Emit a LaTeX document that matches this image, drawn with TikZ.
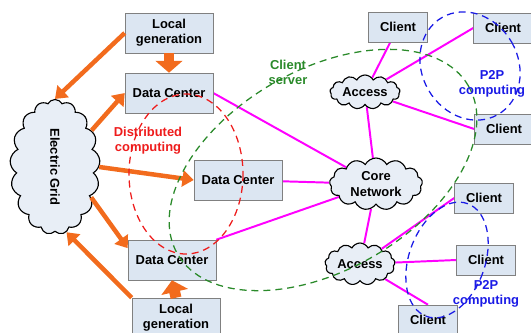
\documentclass[tikz,border=0pt]{standalone}
\usepackage{fontspec}
\setmainfont{Liberation Sans}
\usetikzlibrary{shapes.symbols, arrows.meta, backgrounds}

\definecolor{boxfill}{HTML}{DCE6F2}
\definecolor{boxline}{HTML}{808080}
\definecolor{cloudfill}{HTML}{E8EEF6}
\definecolor{power}{HTML}{F26B1D}
\definecolor{link}{HTML}{FF00FF}
\definecolor{dcred}{HTML}{EE1C1C}
\definecolor{csgreen}{HTML}{2A8A2A}
\definecolor{ppblue}{HTML}{1A1AE6}

\begin{document}
\begin{tikzpicture}[x=0.025cm, y=-0.025cm,
  every node/.style={font=\fontsize{9.2}{10.8}\selectfont\bfseries, align=center},
  box/.style={draw=boxline, fill=boxfill, minimum width=2.2cm, minimum height=1cm, inner sep=1pt},
  client/.style={box, minimum width=1.475cm, minimum height=0.75cm},
  net/.style={cloud, draw, thick, fill=cloudfill, cloud puffs=13, cloud puff arc=125, cloud ignores aspect, inner sep=0pt},
  wire/.style={link, line width=1.4pt},
  feed/.style={power, line width=3.2pt, -{Triangle[length=8pt, width=11.5pt]}},
  bigfeed/.style={power, line width=7.8pt, -{Triangle[length=8.5pt, width=19pt]}},
  zone/.style={dash pattern=on 5pt off 3.5pt, line width=0.9pt}]
  \useasboundingbox (0,0) rectangle (531,332);

  \node[box] (lgtop) at (169,33) {Local\\generation};
  \node[box] (dctop) at (169,93) {Data Center};
  \node[box] (dcmid) at (238,180) {Data Center};
  \node[box] (dcbot) at (172,260) {Data Center};
  \node[box] (lgbot) at (176,318) {Local\\generation};
  \node[net, cloud puffs=17, minimum width=2.25cm, minimum height=3.375cm] (grid) at (55,167) {\rotatebox{-90}{Electric Grid}};

  \node[net, minimum width=1.75cm, minimum height=0.85cm] (acctop) at (365,92) {Access};
  \node[net, minimum width=2.325cm, minimum height=1.3cm] (core) at (376,184) {Core\\Network};
  \node[net, minimum width=1.75cm, minimum height=1.05cm] (accbot) at (360,264) {Access};

  \node[client] (cla) at (398,27) {Client};
  \node[client] (clb) at (503,28) {Client};
  \node[client] (clc) at (504,129) {Client};
  \node[client] (cld) at (484,198) {Client};
  \node[client] (cle) at (486,260) {Client};
  \node[client] (clf) at (428,320) {Client};

  \begin{scope}[on background layer]
    \draw[wire] (dctop.east) -- (core);
    \draw[wire] (dcmid) -- (core);
    \draw[wire] (dcbot.north east) -- (core);
    \draw[wire] (core) -- (acctop);
    \draw[wire] (acctop) -- (cla);
    \draw[wire] (acctop) -- (clb.west);
    \draw[wire] (acctop) -- (clc.west);
    \draw[wire] (core) -- (accbot);
    \draw[wire] (accbot) -- (cld.west);
    \draw[wire] (accbot) -- (cle.west);
    \draw[wire] (accbot) -- (clf.north);
  \end{scope}

  % power flows
  \draw[feed] (lgtop.west) -- (grid.north);
  \draw[feed] (grid.45) -- (dctop.west);
  \draw[feed] (grid.east) -- (dcmid.west);
  \draw[feed] (grid.-40) -- (dcbot.165);
  \draw[feed] (lgbot.north west) -- (grid.-80);
  \draw[bigfeed] (lgtop.south) -- (dctop.north);
  \draw[bigfeed] (lgbot.north) -- (dcbot.south);

  % computing domains
  \draw[zone, dcred] (186,174) ellipse [x radius=57, y radius=80];
  \draw[zone, csgreen, rotate around={30:(323,170)}] (323,170) ellipse [x radius=168, y radius=100];
  \draw[zone, ppblue, rotate around={30:(470,66)}] (470,66) ellipse [x radius=48, y radius=56];
  \draw[zone, ppblue, rotate around={-20:(447,260)}] (447,260) ellipse [x radius=38, y radius=60];

  \node[text=dcred] (dist) at (148,141) {Distributed\\computing};
  \node[text=csgreen] (cs) at (288,72) {Client\\server};
  \node[text=ppblue] (pptop) at (492,84) {P2P\\computing};
  \node[text=ppblue] (ppbot) at (486,294) {P2P\\computing};
\end{tikzpicture}
\end{document}
